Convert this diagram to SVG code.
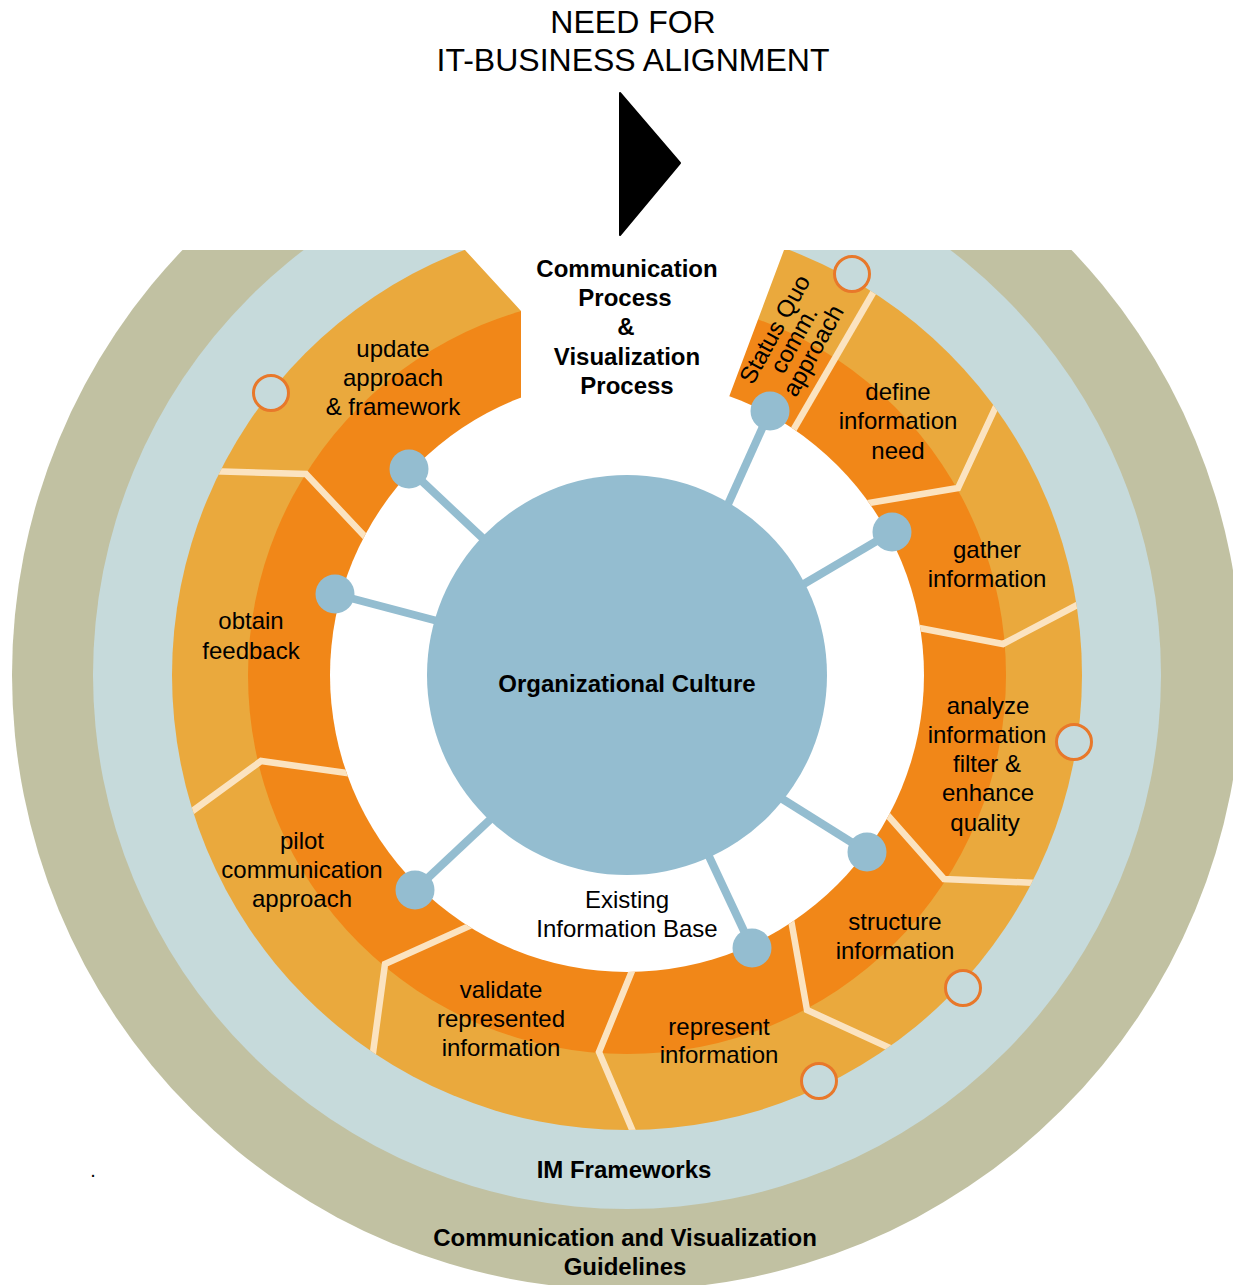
<svg xmlns="http://www.w3.org/2000/svg" width="1233" height="1285" viewBox="0 0 1233 1285">
<defs>
<style>
.t{font-family:"Liberation Sans",Arial,sans-serif;font-size:24px;fill:#000;text-anchor:middle}
.b{font-weight:bold}
.dv{fill:none;stroke:#FBE3C0;stroke-width:6.5;stroke-linejoin:miter}
.con{stroke:#94BDD0;stroke-width:8}
.node{fill:#94BDD0}
.mark{fill:#C6DADB;stroke:#E8782A;stroke-width:3}
</style>
<clipPath id="top"><rect x="0" y="250" width="1233" height="1035"/></clipPath>
<clipPath id="ring"><path clip-rule="evenodd" d="M172,675a455,455 0 1,0 910,0a455,455 0 1,0 -910,0ZM330,675a297,297 0 1,0 594,0a297,297 0 1,0 -594,0Z"/></clipPath>
</defs>
<rect width="1233" height="1285" fill="#fff"/>
<g id="title">
<text class="t" x="633" y="33" style="font-size:32px">NEED FOR</text>
<text class="t" x="633" y="71" style="font-size:32px">IT-BUSINESS ALIGNMENT</text>
<polygon points="620,93 680,163 620,235" fill="#000" stroke="#000" stroke-width="2" stroke-linejoin="round"/>
</g>
<g id="rings" clip-path="url(#top)">
<circle cx="627" cy="675" r="615" fill="#C1C1A2"/>
<circle cx="627" cy="675" r="534" fill="#C6DADB"/>
<circle cx="627" cy="675" r="455" fill="#EAA93D"/>
<circle cx="627" cy="675" r="379" fill="#F18718"/>
<polygon points="465,240 465,250 521,311 521,405 726,405 784,250 788,240" fill="#fff"/>
<circle cx="627" cy="675" r="297" fill="#fff"/>
</g>
<g id="dividers" clip-path="url(#ring)">
<polyline class="dv" points="205,471 306,474 371,543"/>
<polyline class="dv" points="187,815 261,761 354,774"/>
<polyline class="dv" points="372,1060 385,964 476,923"/>
<polyline class="dv" points="634,1134 599,1052 634,966"/>
<polyline class="dv" points="790,914 807,1010 892,1049"/>
<polyline class="dv" points="883,810 944,879 1037,883"/>
<polyline class="dv" points="914,627 1003,644 1081,603"/>
<polyline class="dv" points="863,504 958,488 998,402"/>
<polyline class="dv" points="877,286 791,434"/>
</g>
<g id="connectors">
<line class="con" x1="409" y1="469" x2="490" y2="545"/>
<line class="con" x1="335" y1="594" x2="445" y2="623"/>
<line class="con" x1="415" y1="890" x2="495" y2="815"/>
<line class="con" x1="752" y1="948" x2="706" y2="850"/>
<line class="con" x1="867" y1="852" x2="776" y2="795"/>
<line class="con" x1="892" y1="532" x2="797" y2="588"/>
<line class="con" x1="770" y1="411" x2="725" y2="511"/>
</g>
<g id="culture">
<circle cx="627" cy="675" r="200" fill="#94BDD0"/>
<text class="t b" x="627" y="692">Organizational Culture</text>
</g>
<g id="nodes">
<circle class="node" cx="409" cy="469" r="19.5"/>
<circle class="node" cx="335" cy="594" r="19.5"/>
<circle class="node" cx="415" cy="890" r="19.5"/>
<circle class="node" cx="752" cy="948" r="19.5"/>
<circle class="node" cx="867" cy="852" r="19.5"/>
<circle class="node" cx="892" cy="532" r="19.5"/>
<circle class="node" cx="770" cy="411" r="19.5"/>
</g>
<g id="markers">
<circle class="mark" cx="271" cy="393" r="17.5"/>
<circle class="mark" cx="852" cy="274" r="17.5"/>
<circle class="mark" cx="1074" cy="742" r="17.5"/>
<circle class="mark" cx="963" cy="988" r="17.5"/>
<circle class="mark" cx="819" cy="1081" r="17.5"/>
</g>
<g id="process-title">
<text class="t b" x="627" y="277">Communication</text>
<text class="t b" x="625" y="306">Process</text>
<text class="t b" x="626" y="335">&amp;</text>
<text class="t b" x="627" y="365">Visualization</text>
<text class="t b" x="627" y="394">Process</text>
</g>
<g id="status-quo" transform="translate(794,340) rotate(-61)">
<text class="t" x="0" y="-14">Status Quo</text>
<text class="t" x="0" y="8">comm.</text>
<text class="t" x="0" y="30">approach</text>
</g>
<g id="define">
<text class="t" x="898" y="400">define</text>
<text class="t" x="898" y="429">information</text>
<text class="t" x="898" y="459">need</text>
</g>
<g id="gather">
<text class="t" x="987" y="558">gather</text>
<text class="t" x="987" y="587">information</text>
</g>
<g id="analyze">
<text class="t" x="988" y="714">analyze</text>
<text class="t" x="987" y="743">information</text>
<text class="t" x="987" y="772">filter &amp;</text>
<text class="t" x="988" y="801">enhance</text>
<text class="t" x="985" y="831">quality</text>
</g>
<g id="structure">
<text class="t" x="895" y="930">structure</text>
<text class="t" x="895" y="959">information</text>
</g>
<g id="represent">
<text class="t" x="719" y="1035">represent</text>
<text class="t" x="719" y="1063">information</text>
</g>
<g id="validate">
<text class="t" x="501" y="998">validate</text>
<text class="t" x="501" y="1027">represented</text>
<text class="t" x="501" y="1056">information</text>
</g>
<g id="pilot">
<text class="t" x="302" y="849">pilot</text>
<text class="t" x="302" y="878">communication</text>
<text class="t" x="302" y="907">approach</text>
</g>
<g id="obtain">
<text class="t" x="251" y="629">obtain</text>
<text class="t" x="251" y="659">feedback</text>
</g>
<g id="update">
<text class="t" x="393" y="357">update</text>
<text class="t" x="393" y="386">approach</text>
<text class="t" x="393" y="415">&amp; framework</text>
</g>
<g id="existing">
<text class="t" x="627" y="908">Existing</text>
<text class="t" x="627" y="937">Information Base</text>
</g>
<g id="im-frameworks">
<text class="t b" x="624" y="1178">IM Frameworks</text>
</g>
<g id="guidelines">
<text class="t b" x="625" y="1246">Communication and Visualization</text>
<text class="t b" x="625" y="1275">Guidelines</text>
</g>
<text class="t" x="93" y="1177" style="font-size:20px">.</text>
</svg>
